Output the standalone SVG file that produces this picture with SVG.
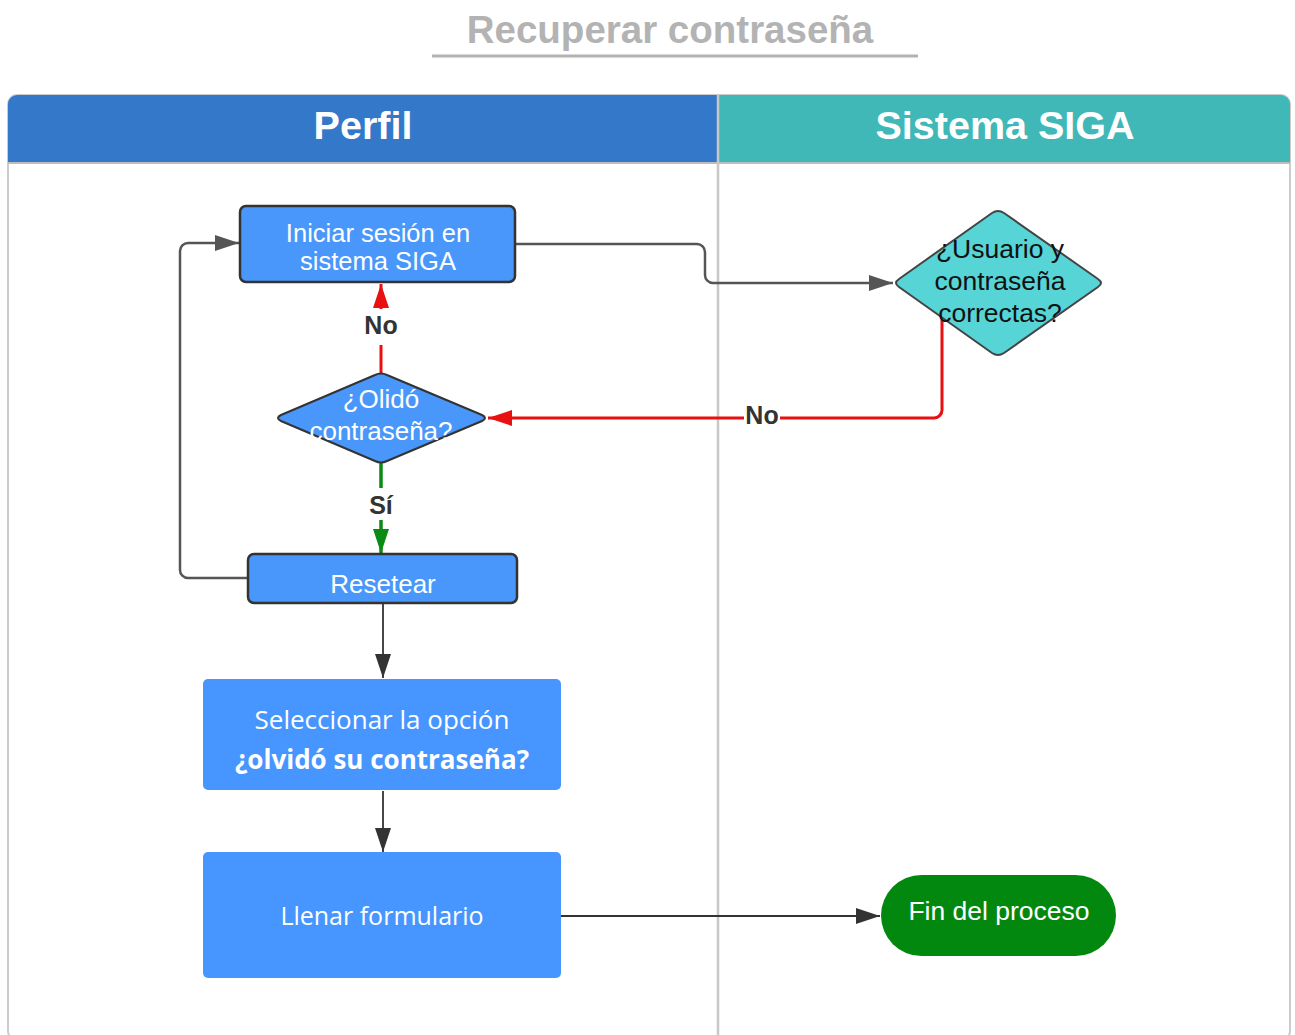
<svg xmlns="http://www.w3.org/2000/svg" width="1295" height="1035" viewBox="0 0 1295 1035">
<style>
.t{font-family:"Liberation Sans",Arial,sans-serif}
.o{font-family:"Open Sans","Noto Sans",sans-serif}
.w{fill:#fff}
.lbl{font-family:"Liberation Sans",Arial,sans-serif;font-weight:bold;font-size:25px;fill:#333;text-anchor:middle}
.box{fill:#4a97fb;stroke:#333;stroke-width:2.5}
.plain{fill:#4796ff}
</style>
<defs>
<marker id="ag" markerUnits="userSpaceOnUse" markerWidth="26" markerHeight="18" refX="24" refY="9" orient="auto"><path d="M0,1 L24,9 L0,17 Z" fill="#555"/></marker>
<marker id="ad" markerUnits="userSpaceOnUse" markerWidth="26" markerHeight="18" refX="24" refY="9" orient="auto"><path d="M0,1 L24,9 L0,17 Z" fill="#333"/></marker>
<marker id="ar" markerUnits="userSpaceOnUse" markerWidth="26" markerHeight="18" refX="24" refY="9" orient="auto"><path d="M0,1 L24,9 L0,17 Z" fill="#e81010"/></marker>
<marker id="an" markerUnits="userSpaceOnUse" markerWidth="26" markerHeight="18" refX="24" refY="9" orient="auto"><path d="M0,1 L24,9 L0,17 Z" fill="#0b8a14"/></marker>
</defs>
<rect width="1295" height="1035" fill="#fff"/>
<g id="title">
<text class="t" x="670" y="43" font-size="38.5" font-weight="bold" fill="#b3b3b3" text-anchor="middle">Recuperar contraseña</text>
<line x1="432" y1="56" x2="918" y2="56" stroke="#b3b3b3" stroke-width="3"/>
</g>
<g id="pool">
<rect x="8" y="95" width="1282" height="945" rx="9" fill="#fff" stroke="#cccccc" stroke-width="2"/>
<path d="M8,163 V104 a9,9 0 0 1 9,-9 H718 V163 Z" fill="#3378c9"/>
<path d="M718,163 V95 H1281 a9,9 0 0 1 9,9 V163 Z" fill="#40b8b8"/>
<line x1="8" y1="163" x2="1290" y2="163" stroke="#bdbdbd" stroke-width="2"/>
<line x1="718" y1="95" x2="718" y2="1035" stroke="#c8c8c8" stroke-width="2.5"/>
<text class="t w" x="363" y="139" font-size="39.5" font-weight="bold" text-anchor="middle">Perfil</text>
<text class="t w" x="1005" y="139" font-size="39.5" font-weight="bold" text-anchor="middle">Sistema SIGA</text>
</g>
<g id="connectors" fill="none">
<path d="M515,244 H697 a8,8 0 0 1 8,8 V275 a8,8 0 0 0 8,8 H893" stroke="#555" stroke-width="2.5" marker-end="url(#ag)"/>
<path d="M942,320 V410 a8,8 0 0 1 -8,8 H488" stroke="#e81010" stroke-width="3" marker-end="url(#ar)"/>
<path d="M381,373 V284" stroke="#e81010" stroke-width="3" marker-end="url(#ar)"/>
<path d="M381,463 V553" stroke="#0b8a14" stroke-width="3.5" marker-end="url(#an)"/>
<path d="M248,578 H188 a8,8 0 0 1 -8,-8 V251 a8,8 0 0 1 8,-8 H239" stroke="#555" stroke-width="2.5" marker-end="url(#ag)"/>
<path d="M383,604 V678" stroke="#333" stroke-width="1.8" marker-end="url(#ad)"/>
<path d="M383,791 V852" stroke="#333" stroke-width="1.8" marker-end="url(#ad)"/>
<path d="M561,916 H880" stroke="#333" stroke-width="1.8" marker-end="url(#ad)"/>
<rect x="361" y="309" width="40" height="36" fill="#fff"/>
<text class="lbl" x="381" y="334">No</text>
<rect x="744" y="403" width="36" height="28" fill="#fff"/>
<text class="lbl" x="762" y="424">No</text>
<rect x="365" y="488" width="32" height="32" fill="#fff"/>
<text class="lbl" x="381" y="514">Sí</text>
</g>
<g id="n_iniciar">
<rect class="box" x="240" y="206" width="275" height="76" rx="6"/>
<text class="t w" x="378" y="242" font-size="25.5" text-anchor="middle">Iniciar sesión en</text>
<text class="t w" x="378" y="270" font-size="25.5" text-anchor="middle">sistema SIGA</text>
</g>
<g id="n_olido">
<path d="M281,415 L375,375 Q381,372 387,375 L482,415 Q488,418 482,421 L387,461 Q381,464 375,461 L281,421 Q275,418 281,415 Z" fill="#4a97fb" stroke="#333" stroke-width="2"/>
<text class="t w" x="381" y="408" font-size="26" text-anchor="middle">¿Olidó</text>
<text class="t w" x="381" y="440" font-size="26" text-anchor="middle">contraseña?</text>
</g>
<g id="n_resetear">
<rect class="box" x="248" y="554" width="269" height="49" rx="6"/>
<text class="t w" x="383" y="593" font-size="26" text-anchor="middle">Resetear</text>
</g>
<g id="n_seleccionar">
<rect class="plain" x="203" y="679" width="358" height="111" rx="5"/>
<text class="o w" x="382" y="729" font-size="26" text-anchor="middle">Seleccionar la opción</text>
<text class="o w" x="382" y="769" font-size="26" font-weight="bold" text-anchor="middle">¿olvidó su contraseña?</text>
</g>
<g id="n_llenar">
<rect class="plain" x="203" y="852" width="358" height="126" rx="5"/>
<text class="o w" x="382" y="925" font-size="25" text-anchor="middle">Llenar formulario</text>
</g>
<g id="n_usuario">
<path d="M899,279 L992,213 Q998,209 1004,213 L1098,279 Q1104,283 1098,287 L1004,353 Q998,357 992,353 L899,287 Q893,283 899,279 Z" fill="#56d4d6" stroke="#444" stroke-width="2"/>
<text class="t" x="1000" y="258" font-size="26.5" fill="#111" text-anchor="middle">¿Usuario y</text>
<text class="t" x="1000" y="290" font-size="26.5" fill="#111" text-anchor="middle">contraseña</text>
<text class="t" x="1000" y="322" font-size="26.5" fill="#111" text-anchor="middle">correctas?</text>
</g>
<g id="n_fin">
<rect x="881" y="875" width="235" height="81" rx="40.5" fill="#03880f"/>
<text class="t w" x="999" y="920" font-size="26.5" text-anchor="middle">Fin del proceso</text>
</g>
</svg>
